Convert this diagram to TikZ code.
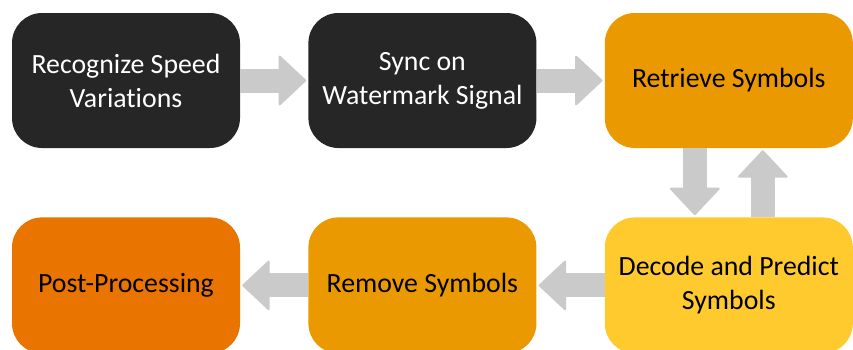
\documentclass[tikz,border=0pt]{standalone}
\usepackage{fontspec}
\setmainfont[Ligatures=NoCommon]{Carlito}
\usetikzlibrary{arrows.meta,positioning}
\definecolor{darkfill}{HTML}{262626}
\definecolor{goldfill}{HTML}{EA9A00}
\definecolor{yellowfill}{HTML}{FFCA2E}
\definecolor{orangefill}{HTML}{E97500}
\definecolor{arrowgray}{HTML}{CACACA}
\tikzset{
    box/.style={rectangle,rounded corners=30pt,minimum width=228pt,minimum height=135pt,inner sep=0pt,align=center,font=\fontsize{27.8}{34}\selectfont},
    dark/.style={box,fill=darkfill,text=white},
    gold/.style={box,fill=goldfill},
    yellow box/.style={box,fill=yellowfill},
    orange box/.style={box,fill=orangefill},
    flow/.style={draw=arrowgray,line width=24pt,-{Triangle[width=52pt,length=28pt,line width=2pt,round]},shorten >=2pt}
}

\begin{document}
\begin{tikzpicture}

                \useasboundingbox (0,0) rectangle (853pt,-349pt);
                \clip (0,0) rectangle (853pt,-349pt);

                \node[dark]        (box 1) at (126pt,-80.5pt)          {Recognize Speed\\Variations};
                \node[dark]        (box 2) [right=68pt of box 1]       {Sync on\\Watermark Signal};
                \node[gold]        (box 3) [minimum width=248pt,right=68pt of box 2] {Retrieve Symbols};

                \node[yellow box]  (box 6) [minimum width=248pt,minimum height=136pt,below=69pt of box 3] {Decode and Predict\\Symbols};
                \node[gold]        (box 5) [minimum height=136pt,left=68pt of box 6]  {Remove Symbols};
                \node[orange box]  (box 4) [minimum height=136pt,left=68pt of box 5]  {Post-Processing};

                \draw[flow] (box 1) -- (box 2);
                \draw[flow] (box 2) -- (box 3);
                \draw[flow] ([xshift=-34pt]box 3.south) -- ([xshift=-34pt]box 6.north);
                \draw[flow] ([xshift=34pt]box 6.north) -- ([xshift=34pt]box 3.south);
                \draw[flow] (box 6) -- (box 5);
                \draw[flow] (box 5) -- (box 4);

            \end{tikzpicture}
\end{document}
